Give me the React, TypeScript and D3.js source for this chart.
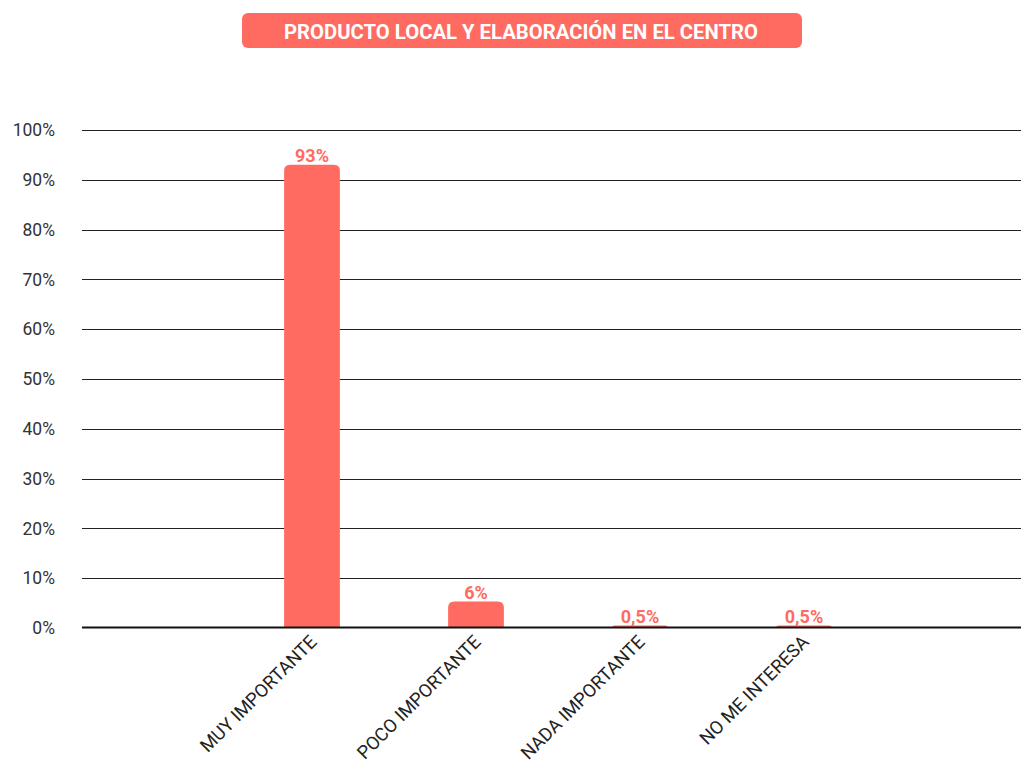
import React from "react";
import * as d3 from "d3";

const title = "PRODUCTO LOCAL Y ELABORACIÓN EN EL CENTRO";
const categories = ["MUY IMPORTANTE", "POCO IMPORTANTE", "NADA IMPORTANTE", "NO ME INTERESA"];
const values = [93, 5.3, 0.5, 0.5];
const valueLabels = ["93%", "6%", "0,5%", "0,5%"];
const yTicks = [0, 10, 20, 30, 40, 50, 60, 70, 80, 90, 100];

const W = 1022;
const H = 763;
const CORAL = "#ff6b61";
const FONT = "Roboto, 'Noto Sans', sans-serif";

export default function App() {
  const y = d3.scaleLinear().domain([0, 100]).range([628, 130]);
  const x = d3
    .scaleBand<string>()
    .domain(categories)
    .range([230, 886])
    .paddingInner(0.66)
    .paddingOuter(0.33);
  const gridX0 = 82;
  const gridX1 = 1021;

  const barPath = (x0: number, w: number, top: number, bottom: number) => {
    const h = bottom - top;
    const r = Math.min(6, h, w / 2);
    return `M${x0},${bottom}V${top + r}Q${x0},${top} ${x0 + r},${top}H${x0 + w - r}Q${x0 + w},${top} ${x0 + w},${top + r}V${bottom}Z`;
  };

  return (
    <svg
      width={W}
      height={H}
      style={{ position: "absolute", left: 0, top: 0, background: "#fff" }}
      fontFamily={FONT}
    >
      {/* title */}
      <rect x={242} y={13} width={560} height={35} rx={6} fill={CORAL} />
      <text
        x={521}
        y={39}
        textAnchor="middle"
        fill="#fff"
        fontWeight="bold"
        fontSize={21}
        textLength={474}
        lengthAdjust="spacingAndGlyphs"
      >
        {title}
      </text>

      {/* gridlines and y labels */}
      {yTicks.map((t) => (
        <g key={t}>
          {t !== 0 && (
            <line
              x1={gridX0}
              x2={gridX1}
              y1={Math.round(y(t)) + 0.5}
              y2={Math.round(y(t)) + 0.5}
              stroke="#222"
              strokeWidth={1.2}
            />
          )}
          <text
            x={55}
            y={y(t)}
            dy="0.35em"
            textAnchor="end"
            fontSize={17.5}
            fill="#333"
          >
            {t}%
          </text>
        </g>
      ))}

      {/* bars */}
      {categories.map((c, i) => {
        const x0 = x(c)!;
        const w = x.bandwidth();
        const top = y(values[i]);
        return <path key={c} d={barPath(x0, w, top, y(0))} fill={CORAL} />;
      })}

      {/* zero baseline drawn over the bars */}
      <line
        x1={gridX0}
        x2={gridX1}
        y1={y(0) - 0.5}
        y2={y(0) - 0.5}
        stroke="#111"
        strokeWidth={2}
      />

      {/* value labels */}
      {categories.map((c, i) => {
        const x0 = x(c)!;
        const w = x.bandwidth();
        const top = y(values[i]);
        return (
          <text
            key={c}
            x={x0 + w / 2}
            y={top - 3}
            textAnchor="middle"
            fontSize={18}
            fontWeight="bold"
            fill={CORAL}
          >
            {valueLabels[i]}
          </text>
        );
      })}

      {/* x labels */}
      {categories.map((c) => {
        const cx = x(c)! + x.bandwidth() / 2 + 6;
        const ly = 643;
        return (
          <text
            key={c}
            transform={`translate(${cx},${ly}) rotate(-45)`}
            textAnchor="end"
            fontSize={18.4}
            fill="#222"
          >
            {c}
          </text>
        );
      })}
    </svg>
  );
}
